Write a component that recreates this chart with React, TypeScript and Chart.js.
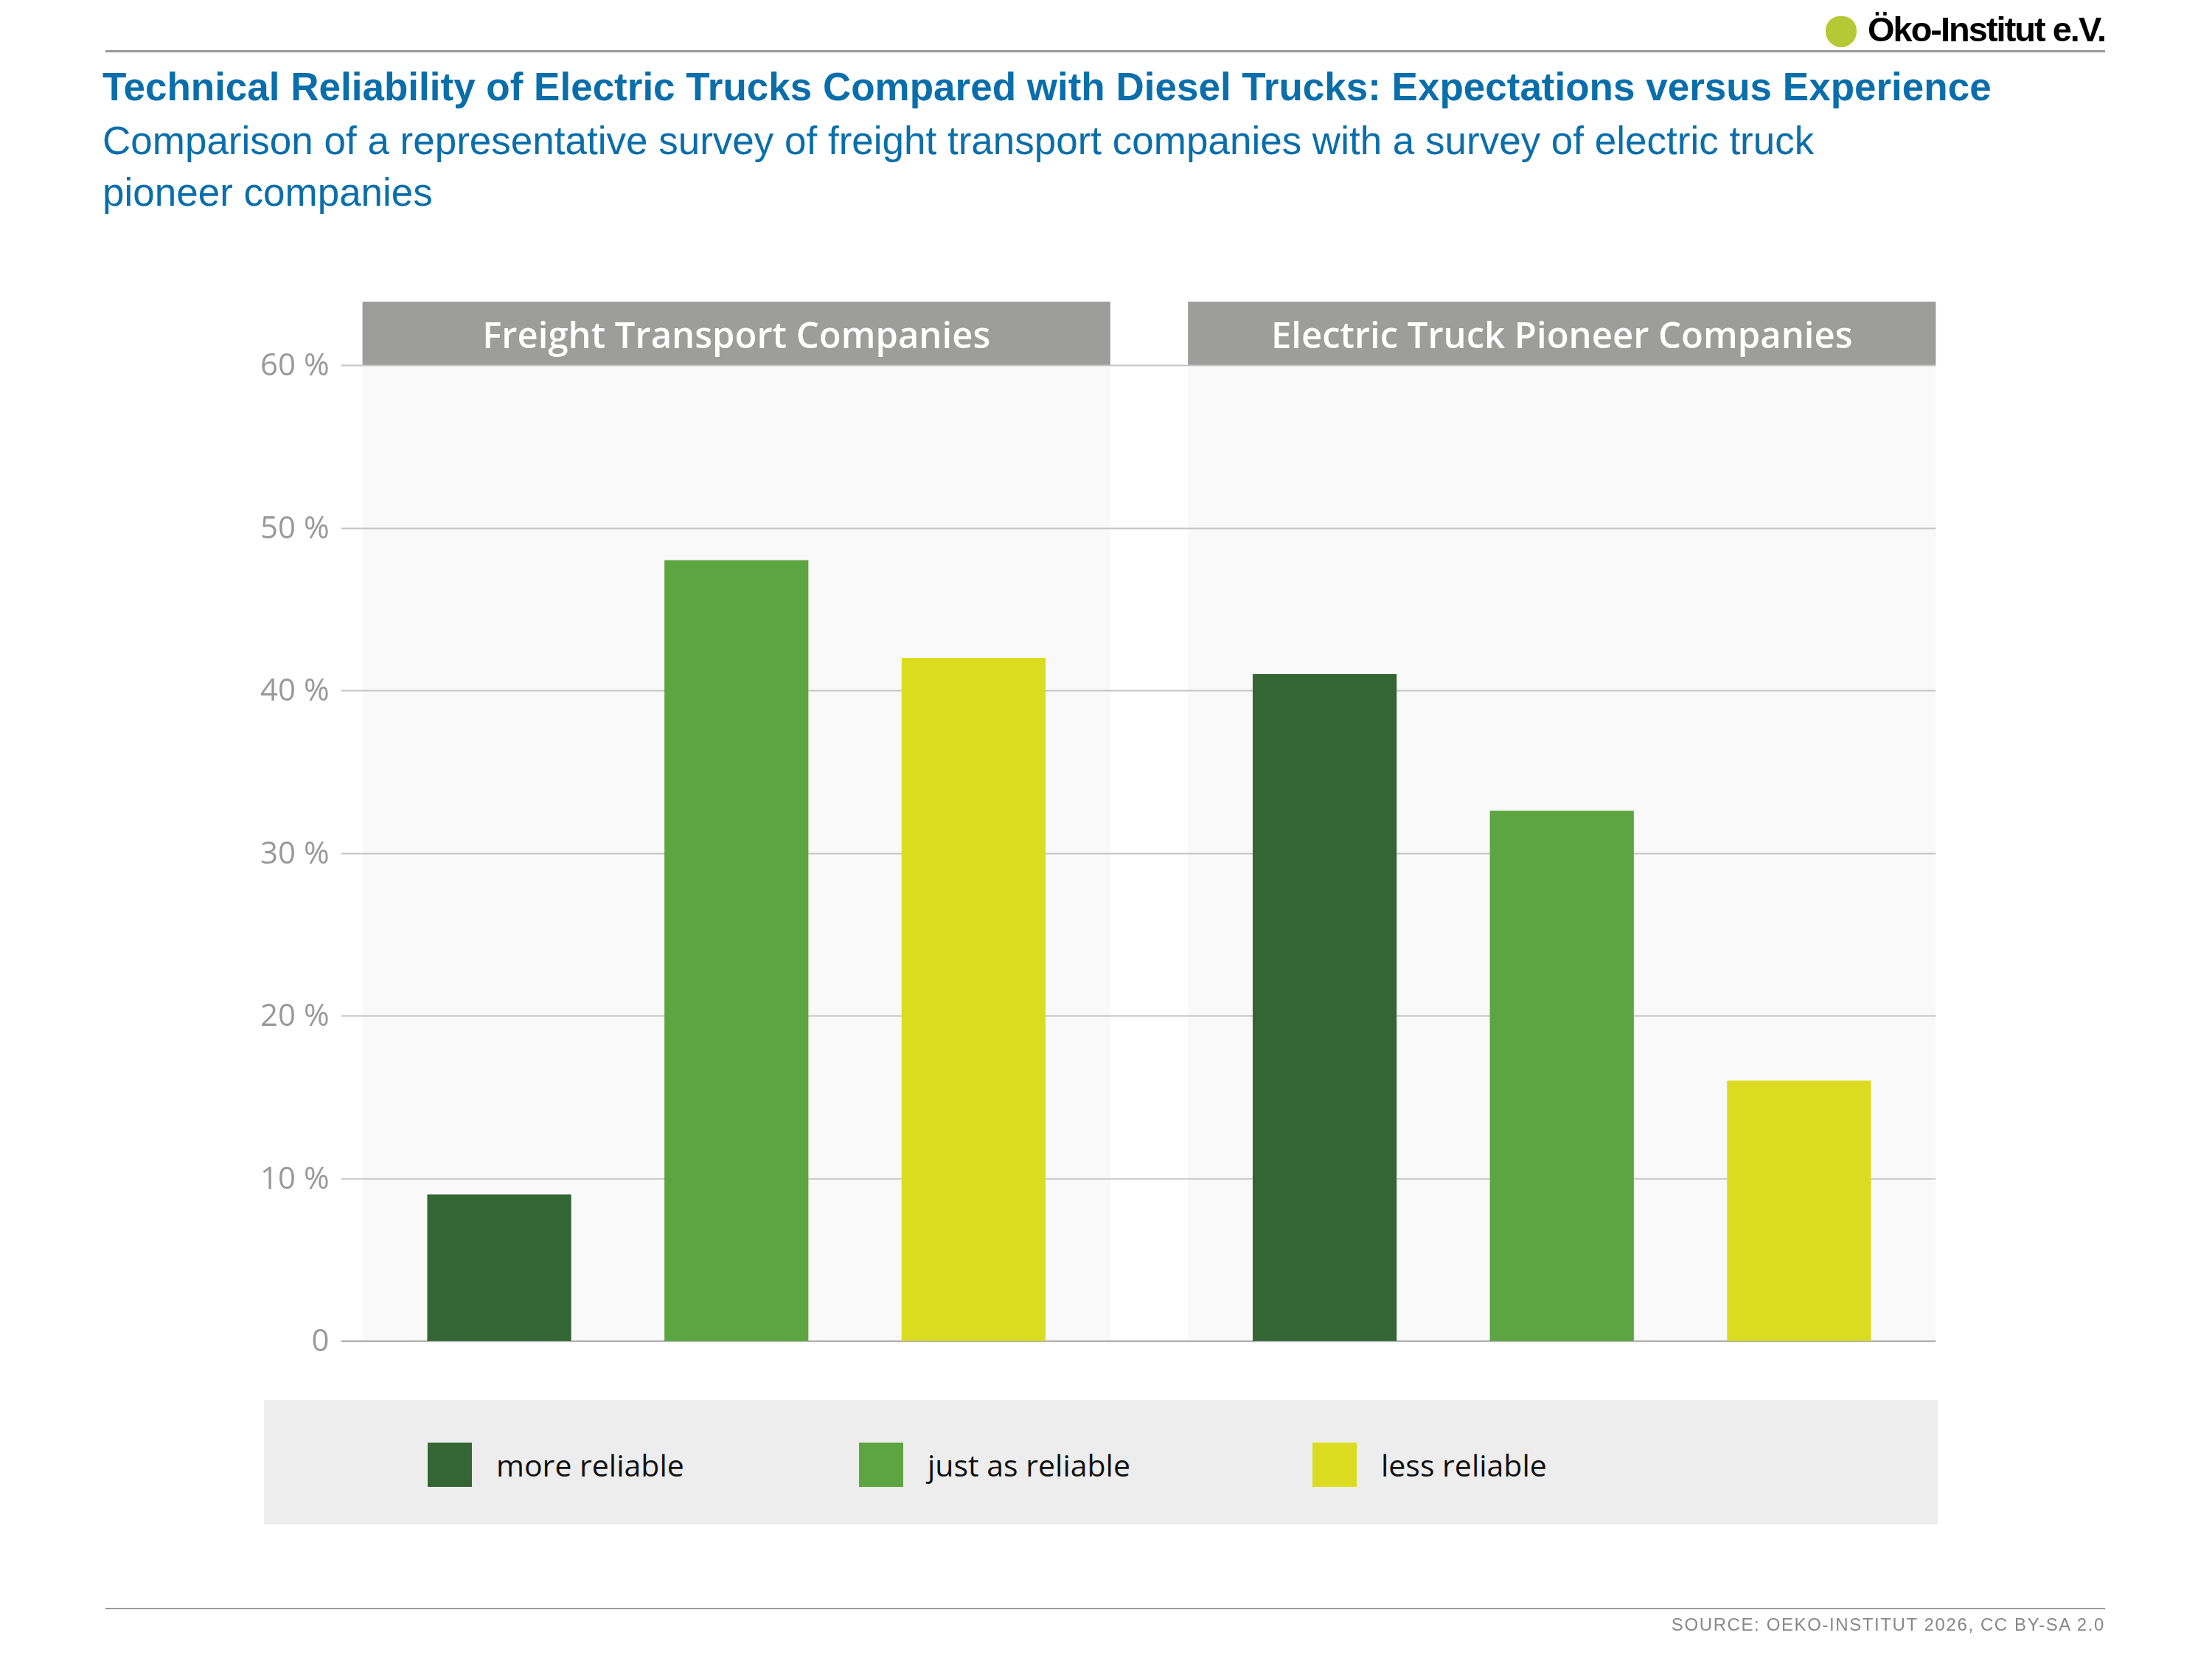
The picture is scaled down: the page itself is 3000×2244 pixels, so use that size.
import { useEffect, useRef } from 'react';
import { Chart, registerables } from 'chart.js';

Chart.register(...registerables);

// survey groups (one panel each)
const groups = ['Freight Transport Companies', 'Electric Truck Pioneer Companies'];
const answers = ['more reliable', 'just as reliable', 'less reliable'];
const moreReliable = [9, 41];
const justAsReliable = [48, 32.6];
const lessReliable = [42, 16];
const yTicks = [0, 10, 20, 30, 40, 50, 60];
const colors = ['#336633', '#5da540', '#dbdc1f'];

const SANS = '"Open Sans", "Noto Sans", sans-serif';

const panelPlugin = {
  id: 'panels',
  beforeDatasetsDraw(chart: Chart) {
    const { ctx, chartArea } = chart;
    const x = chart.scales.x;
    const y = chart.scales.y;
    const catW = (chartArea.right - chartArea.left) / groups.length;
    const half = catW * 0.453;
    const top = y.getPixelForValue(60);
    const bottom = y.getPixelForValue(0);
    ctx.save();
    groups.forEach((g, i) => {
      const cx = x.getPixelForValue(i);
      ctx.fillStyle = '#f9f9f9';
      ctx.fillRect(cx - half, top, half * 2, bottom - top);
      ctx.fillStyle = '#9d9d9c';
      ctx.fillRect(cx - half, top - 86, half * 2, 86);
      ctx.fillStyle = '#ffffff';
      ctx.font = `600 49px ${SANS}`;
      ctx.textAlign = 'center';
      ctx.textBaseline = 'middle';
      ctx.fillText(g, cx, top - 37);
    });
    const left = x.getPixelForValue(0) - half;
    const right = x.getPixelForValue(groups.length - 1) + half;
    yTicks.forEach((t) => {
      const py = Math.round(y.getPixelForValue(t)) + 0.5;
      ctx.strokeStyle = t === 0 ? '#a0a0a0' : '#c4c4c4';
      ctx.lineWidth = 2;
      ctx.beginPath();
      ctx.moveTo(left - 29, py);
      ctx.lineTo(right, py);
      ctx.stroke();
      ctx.fillStyle = '#999999';
      ctx.font = `42px ${SANS}`;
      ctx.textAlign = 'right';
      ctx.textBaseline = 'middle';
      ctx.fillText(t === 0 ? '0' : `${t} %`, left - 45, py + 2);
    });
    ctx.restore();
  },
};

export default function App() {
  const canvasRef = useRef<HTMLCanvasElement>(null);

  useEffect(() => {
    if (!canvasRef.current) return;
    const chart = new Chart(canvasRef.current, {
      type: 'bar',
      data: {
        labels: groups,
        datasets: [moreReliable, justAsReliable, lessReliable].map((d, i) => ({
          label: answers[i],
          data: d,
          backgroundColor: colors[i],
          categoryPercentage: 0.862,
          barPercentage: 0.607,
        })),
      },
      options: {
        animation: false,
        responsive: false,
        devicePixelRatio: 1,
        layout: { padding: { left: 439, right: 322, top: 495, bottom: 426 } },
        plugins: { legend: { display: false }, tooltip: { enabled: false } },
        scales: {
          x: { display: false },
          y: { display: false, min: 0, max: 60 },
        },
      },
      plugins: [panelPlugin],
    });
    return () => chart.destroy();
  }, []);

  const title = '"Liberation Sans", Arial, sans-serif';
  return (
    <div style={{ position: 'relative', width: 3000, height: 2244, margin: -8, background: '#fff', overflow: 'hidden' }}>
      <canvas ref={canvasRef} width={3000} height={2244} style={{ position: 'absolute', left: 0, top: 0 }} />
      <div style={{ position: 'absolute', left: 143, top: 68, width: 2712, height: 3, background: '#9a9a9a' }} />
      <div style={{ position: 'absolute', left: 2476, top: 22, width: 42, height: 42, background: '#b5c935', borderRadius: '45% 45% 50% 50%' }} />
      <div style={{ position: 'absolute', right: 145, top: 12, font: `bold 47px ${title}`, color: '#000', letterSpacing: -2 }}>
        Öko-Institut e.V.
      </div>
      <div style={{ position: 'absolute', left: 139, top: 87, font: `bold 53px ${title}`, color: '#0a6eab', whiteSpace: 'nowrap' }}>
        Technical Reliability of Electric Trucks Compared with Diesel Trucks: Expectations versus Experience
      </div>
      <div style={{ position: 'absolute', left: 139, top: 156, width: 2600, font: `53px/70px ${title}`, color: '#0a6eab' }}>
        Comparison of a representative survey of freight transport companies with a survey of electric truck
        <br />
        pioneer companies
      </div>
      <div style={{ position: 'absolute', left: 358, top: 1898, width: 2270, height: 169, background: '#ededed' }} />
      {answers.map((a, i) => (
        <div key={a} style={{ position: 'absolute', left: [580, 1165, 1780][i], top: 1956, display: 'flex', alignItems: 'center' }}>
          <div style={{ width: 60, height: 60, background: colors[i] }} />
          <span style={{ marginLeft: 33, font: `41px ${SANS}`, color: '#111' }}>{a}</span>
        </div>
      ))}
      <div style={{ position: 'absolute', left: 143, top: 2180, width: 2712, height: 2, background: '#9a9a9a' }} />
      <div style={{ position: 'absolute', right: 145, top: 2189, font: `24px ${title}`, color: '#888', letterSpacing: 1.6 }}>
        SOURCE: OEKO-INSTITUT 2026, CC BY-SA 2.0
      </div>
    </div>
  );
}
